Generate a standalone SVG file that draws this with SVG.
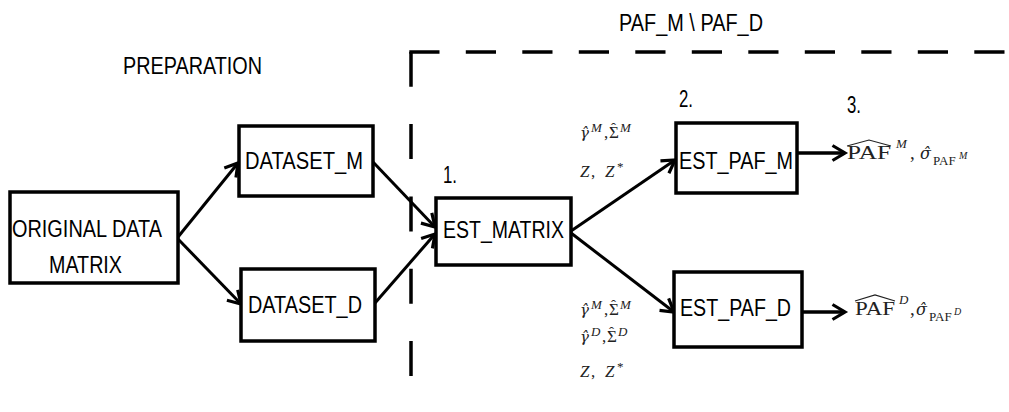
<svg xmlns="http://www.w3.org/2000/svg" width="1009" height="412" viewBox="0 0 1009 412">
<style>
.box{fill:#fff;stroke:#000;stroke-width:3.5}
.t{font-family:"Liberation Sans",Arial,sans-serif;font-size:23.5px;fill:#000}
.m{font-family:"Liberation Serif","DejaVu Serif",serif;font-size:17px;fill:#222}
.g{font-family:"DejaVu Serif",serif;font-size:15px}
.mi{font-style:italic}
.sup{font-size:13px}
.h{font-size:15px}
.con{fill:none;stroke:#000;stroke-width:3;marker-end:url(#arr)}
.dash{fill:none;stroke:#000;stroke-width:3.5}
.hat{fill:none;stroke:#222;stroke-width:1.2}
</style>
<defs>
<marker id="arr" viewBox="0 0 20 20" refX="16" refY="10" markerWidth="20" markerHeight="20" orient="auto" markerUnits="userSpaceOnUse">
<path d="M3.5,2.5 L16,10 L3.5,17.5" fill="none" stroke="#000" stroke-width="3.2"/>
</marker>
</defs>
<rect width="1009" height="412" fill="#fff"/>

<g id="region">
<path class="dash" d="M411,376 L411,52" stroke-dasharray="35 37.3"/>
<path class="dash" d="M409.3,52 L1009,52" stroke-dasharray="30.2 26.3"/>
<text class="t" x="619" y="31" textLength="144" lengthAdjust="spacingAndGlyphs">PAF_M \ PAF_D</text>
<text class="t" x="123" y="74" textLength="139" lengthAdjust="spacingAndGlyphs">PREPARATION</text>
</g>

<g id="connectors">
<path class="con" d="M178,237 L238,163"/>
<path class="con" d="M178,239 L241,304"/>
<path class="con" d="M373,162 L435,227"/>
<path class="con" d="M375,303 L435,234"/>
<path class="con" d="M571,231 L675,160"/>
<path class="con" d="M571,233 L674,312"/>
<path class="con" d="M797,153 L845,153" style="stroke-width:3.5"/>
<path class="con" d="M802,312 L845,312" style="stroke-width:3.5"/>
</g>

<g id="original">
<rect class="box" x="10" y="192" width="168" height="91"/>
<text class="t" x="12" y="237" textLength="150" lengthAdjust="spacingAndGlyphs">ORIGINAL DATA</text>
<text class="t" x="49" y="273" textLength="73" lengthAdjust="spacingAndGlyphs">MATRIX</text>
</g>

<g id="dataset_m">
<rect class="box" x="239" y="126" width="134" height="70"/>
<text class="t" x="245" y="169" textLength="118" lengthAdjust="spacingAndGlyphs">DATASET_M</text>
</g>

<g id="dataset_d">
<rect class="box" x="241" y="269" width="134" height="72"/>
<text class="t" x="248" y="313" textLength="114" lengthAdjust="spacingAndGlyphs">DATASET_D</text>
</g>

<g id="est_matrix">
<rect class="box" x="436" y="198" width="135" height="67"/>
<text class="t" x="443" y="238" textLength="121" lengthAdjust="spacingAndGlyphs">EST_MATRIX</text>
<text class="t" x="443" y="183" textLength="14" lengthAdjust="spacingAndGlyphs">1.</text>
</g>

<g id="est_paf_m">
<rect class="box" x="676" y="123" width="121" height="70"/>
<text class="t" x="679" y="169" textLength="114" lengthAdjust="spacingAndGlyphs">EST_PAF_M</text>
<text class="t" x="679" y="107" textLength="14" lengthAdjust="spacingAndGlyphs">2.</text>
<text class="t" x="847" y="113" textLength="14" lengthAdjust="spacingAndGlyphs">3.</text>
</g>

<g id="est_paf_d">
<rect class="box" x="674" y="272" width="128" height="75"/>
<text class="t" x="680" y="316" textLength="111" lengthAdjust="spacingAndGlyphs">EST_PAF_D</text>
</g>

<g id="labels_m">
<text class="m"><tspan class="g mi" x="580" y="138">γ̂</tspan><tspan class="mi sup" x="591" y="132">M</tspan><tspan x="604" y="138">,</tspan><tspan x="609" y="138">Σ</tspan><tspan class="h" x="611" y="133">ˆ</tspan><tspan class="mi sup" x="620" y="132">M</tspan></text>
<text class="m" y="177"><tspan class="mi" x="580">Z</tspan><tspan x="591">,</tspan><tspan class="mi" x="605">Z</tspan><tspan class="sup" x="617" y="171">*</tspan></text>
</g>

<g id="labels_d">
<text class="m"><tspan class="g mi" x="580" y="315">γ̂</tspan><tspan class="mi sup" x="591" y="309">M</tspan><tspan x="604" y="315">,</tspan><tspan x="609" y="315">Σ</tspan><tspan class="h" x="611" y="310">ˆ</tspan><tspan class="mi sup" x="620" y="309">M</tspan></text>
<text class="m"><tspan class="g mi" x="580" y="342">γ̂</tspan><tspan class="mi sup" x="591" y="336">D</tspan><tspan x="602" y="342">,</tspan><tspan x="607" y="342">Σ</tspan><tspan class="h" x="609" y="337">ˆ</tspan><tspan class="mi sup" x="618" y="336">D</tspan></text>
<text class="m" y="377"><tspan class="mi" x="580">Z</tspan><tspan x="591">,</tspan><tspan class="mi" x="605">Z</tspan><tspan class="sup" x="617" y="371">*</tspan></text>
</g>

<g id="result_m">
<path class="hat" d="M847,146 L869,140 L891,146"/>
<text class="m" style="font-size:19px"><tspan x="847" y="159" textLength="44" lengthAdjust="spacingAndGlyphs">PAF</tspan><tspan class="mi" x="896" y="148" style="font-size:13px">M</tspan><tspan x="910" y="159">,</tspan><tspan class="g mi" x="920" y="159" style="font-size:16px">σ̂</tspan><tspan x="933" y="165" style="font-size:13px">PAF</tspan><tspan class="mi" x="959" y="159" style="font-size:10px">M</tspan></text>
</g>

<g id="result_d">
<path class="hat" d="M855,301 L875,295 L895,301"/>
<text class="m" style="font-size:19px"><tspan x="855" y="315" textLength="40" lengthAdjust="spacingAndGlyphs">PAF</tspan><tspan class="mi" x="899" y="304" style="font-size:13px">D</tspan><tspan x="910" y="315">,</tspan><tspan class="g mi" x="916" y="315" style="font-size:16px">σ̂</tspan><tspan x="929" y="321" style="font-size:13px">PAF</tspan><tspan class="mi" x="954" y="315" style="font-size:10px">D</tspan></text>
</g>
</svg>
